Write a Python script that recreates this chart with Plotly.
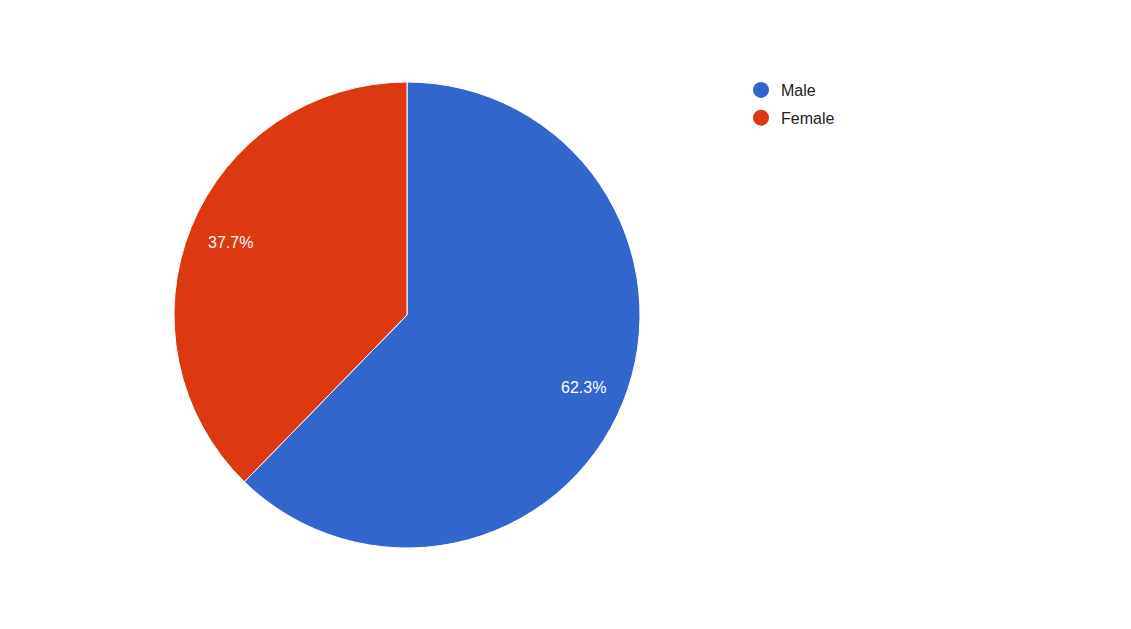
import math
import plotly.graph_objects as go

labels = ["Male", "Female"]
values = [62.3, 37.7]
colors = ["#3366cc", "#dc3912"]

W, H = 1131, 629
# pie geometry in page pixels (page body has 8px offset)
CX, CY, R = 399, 629 - 307, 233

fig = go.Figure()
fig.add_trace(go.Pie(
    labels=labels, values=values, sort=False, direction="clockwise", rotation=0,
    marker=dict(colors=colors, line=dict(color="white", width=1)),
    textinfo="none", showlegend=False, hoverinfo="label+percent",
    domain=dict(x=[(CX - R) / W, (CX + R) / W], y=[(CY - R) / H, (CY + R) / H]),
))
for lab, col in zip(labels, colors):
    fig.add_trace(go.Scatter(
        x=[None], y=[None], mode="markers", name=lab, legendgroup=lab,
        marker=dict(color=col, size=16, symbol="circle"),
    ))

total = sum(values)
cum = 0
for v in values:
    mid = (cum + v / 2) / total * 2 * math.pi
    cum += v
    px = CX + 0.82 * R * math.sin(mid)
    py = CY + 0.82 * R * math.cos(mid)
    fig.add_annotation(
        x=px / W, y=py / H, xref="paper", yref="paper", showarrow=False,
        xanchor="center", yanchor="middle",
        text=f"{v / total * 100:.1f}%",
        font=dict(color="white", size=16, family="Arial, Liberation Sans"),
    )

fig.update_layout(
    width=W, height=H,
    margin=dict(l=0, r=0, t=0, b=0),
    paper_bgcolor="white", plot_bgcolor="white",
    xaxis=dict(visible=False), yaxis=dict(visible=False),
    legend=dict(x=(737 - 4) / W, y=1 - 65 / H, xanchor="left", yanchor="top",
                font=dict(size=16, color="#222222", family="Arial, Liberation Sans"),
                tracegroupgap=4, itemsizing="trace"),
)
fig.write_html("out.html")
